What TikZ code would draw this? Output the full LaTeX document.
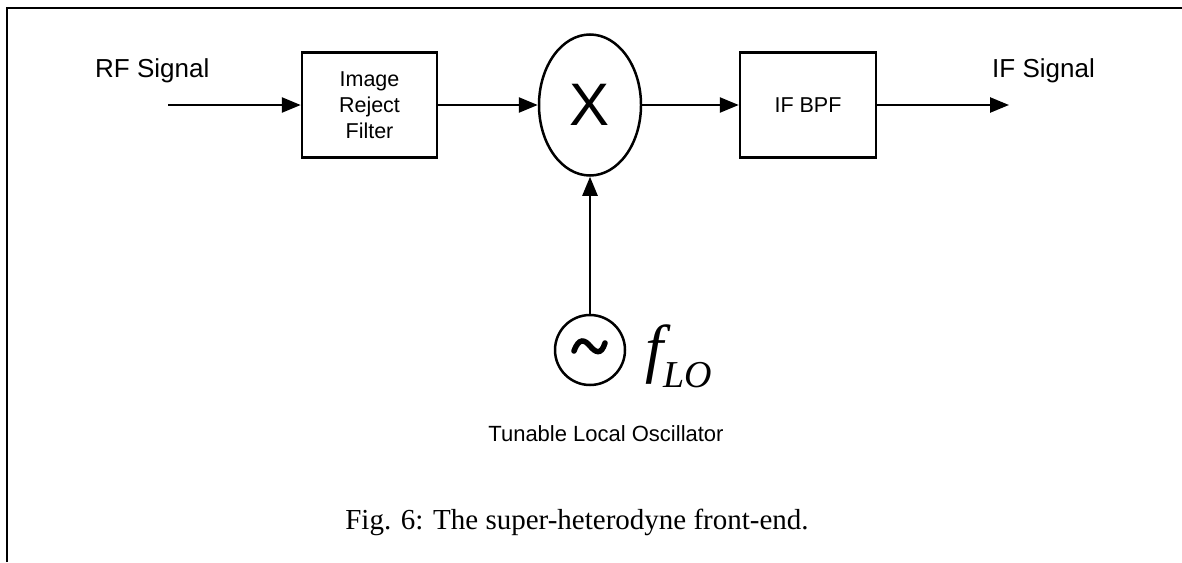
\documentclass[tikz,border=0pt]{standalone}
\usepackage{fontspec}
\setmainfont{Liberation Serif}
\newfontfamily\arial{Liberation Sans}
\usetikzlibrary{arrows.meta,shapes.geometric}
\newcommand{\fsz}[1]{\fontsize{#1pt}{1.2\dimexpr#1pt\relax}\selectfont}
\begin{document}
\begin{tikzpicture}[x=1pt,y=-1pt,
  lw/.style={line width=2.5pt},
  blockbox/.style={draw,lw,rectangle,minimum width=135pt,minimum height=105pt,inner sep=0pt,align=center,font=\arial\fsz{21.5}},
  sig/.style={lw,-{Triangle[length=19pt,width=15pt]}},
  lbl/.style={inner sep=0pt,font=\arial\fsz{26}}]
\useasboundingbox (0,0) rectangle (1182,562);
% frame
\draw[line width=2.8pt] (7,562) -- (7,8) -- (1182,8);
% blocks
\node[blockbox] (irf) at (369.5,105) {\baselineskip=28pt Image\\Reject\\Filter};
\node[draw,lw,ellipse,minimum width=102pt,minimum height=141pt,inner sep=0pt,font=\arial\fsz{60}] (mix) at (590,105) {X};
\node[blockbox,minimum width=136pt] (bpf) at (808,105) {IF BPF};
\node[draw,lw,circle,minimum size=70pt,inner sep=0pt] (osc) at (590,350) {};
\draw[line width=5.5pt,line cap=round] (574,351) .. controls (579,337) and (585,340) .. (590,346) .. controls (595,352) and (601,356) .. (605,343);
\coordinate (in) at (168,105);
\coordinate (out) at (1009,105);
% connectors
\draw[sig] (in) -- (irf.west);
\draw[sig] (irf.east) -- (mix.west);
\draw[sig] (mix.east) -- (bpf.west);
\draw[sig] (bpf.east) -- (out);
\draw[sig] (osc.north) -- (mix.south);
% labels
\node[lbl,anchor=base west] (rf) at (95,77) {RF Signal};
\node[lbl,anchor=base west] (ifs) at (992,77) {IF Signal};
\node[inner sep=0pt,anchor=base west] (flo) at (645,370) {{\fsz{65}\itshape f}\raisebox{-17pt}{\fsz{38}\itshape LO}};
\node[inner sep=0pt,anchor=base,font=\arial\fsz{22}] (tlo) at (606,441) {Tunable Local Oscillator};
\node[inner sep=0pt,anchor=base,font=\fsz{29}] (cap) at (577,529) {Fig. 6: The super-heterodyne front-end.};
\end{tikzpicture}
\end{document}
